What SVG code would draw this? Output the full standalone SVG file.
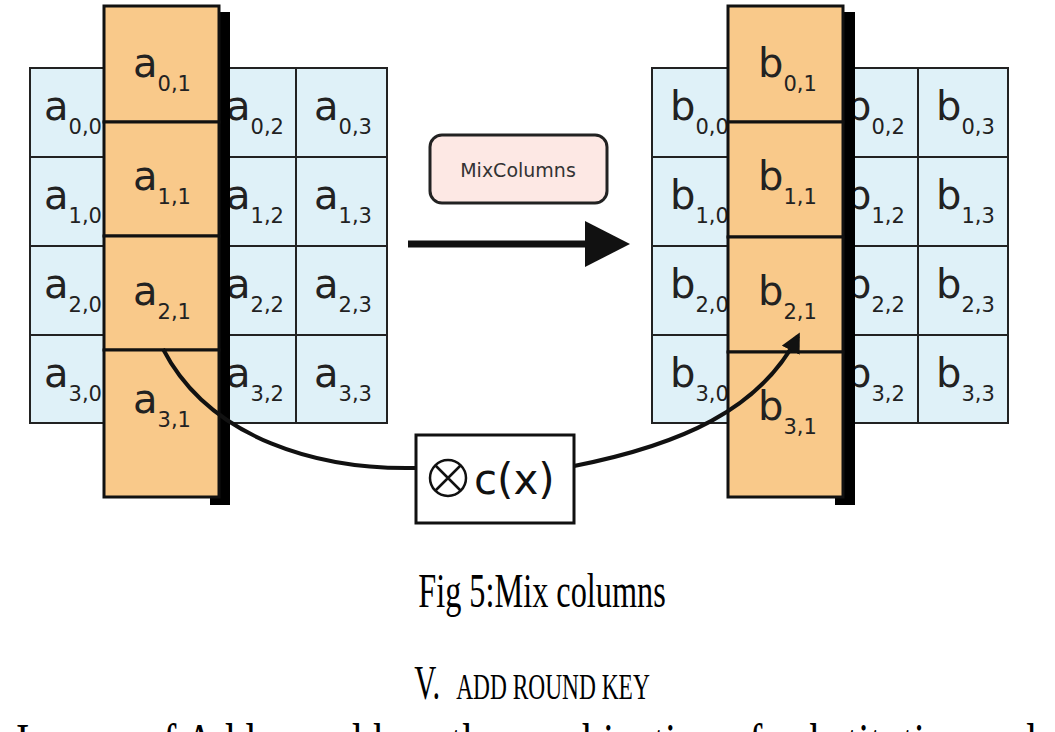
<svg xmlns="http://www.w3.org/2000/svg" width="1055" height="732" viewBox="0 0 1055 732">
<style>
.cell{fill:#dff1f8;stroke:#222;stroke-width:2}
.or{fill:#f9c98a;stroke:#111;stroke-width:3}
.sh{fill:#000}
.m{font-family:"DejaVu Sans",sans-serif;font-size:40px;fill:#222}
.s{font-size:21px}
.cap{font-family:"Liberation Serif",serif;fill:#000;text-anchor:middle}
</style>
<defs>
<marker id="ah" viewBox="0 0 10 10" refX="8" refY="5" markerWidth="5" markerHeight="5" orient="auto"><path d="M0,0 L10,5 L0,10 z" fill="#111"/></marker>
</defs>
<rect width="1055" height="732" fill="#fff"/>
<g id="gridA">
<rect class="cell" x="30" y="68" width="357" height="355"/>
<path d="M30 157H387M30 246H387M30 335H387M296 68V423" stroke="#222" stroke-width="2"/>
<g class="m">
<text x="44" y="120">a<tspan class="s" dy="14">0,0</tspan></text>
<text x="44" y="209">a<tspan class="s" dy="14">1,0</tspan></text>
<text x="44" y="298">a<tspan class="s" dy="14">2,0</tspan></text>
<text x="44" y="387">a<tspan class="s" dy="14">3,0</tspan></text>
<text x="226" y="120">a<tspan class="s" dy="14">0,2</tspan></text>
<text x="226" y="209">a<tspan class="s" dy="14">1,2</tspan></text>
<text x="226" y="298">a<tspan class="s" dy="14">2,2</tspan></text>
<text x="226" y="387">a<tspan class="s" dy="14">3,2</tspan></text>
<text x="314" y="120">a<tspan class="s" dy="14">0,3</tspan></text>
<text x="314" y="209">a<tspan class="s" dy="14">1,3</tspan></text>
<text x="314" y="298">a<tspan class="s" dy="14">2,3</tspan></text>
<text x="314" y="387">a<tspan class="s" dy="14">3,3</tspan></text>
</g>
</g>
<g id="colA">
<rect class="sh" x="210" y="12" width="20" height="493"/>
<rect class="or" x="104" y="6" width="115" height="116"/>
<rect class="or" x="104" y="122" width="115" height="114"/>
<rect class="or" x="104" y="236" width="115" height="114"/>
<rect class="or" x="104" y="350" width="115" height="147"/>
<g class="m">
<text x="133" y="77">a<tspan class="s" dy="14">0,1</tspan></text>
<text x="133" y="190">a<tspan class="s" dy="14">1,1</tspan></text>
<text x="133" y="305">a<tspan class="s" dy="14">2,1</tspan></text>
<text x="133" y="413">a<tspan class="s" dy="14">3,1</tspan></text>
</g>
</g>
<g id="gridB">
<rect class="cell" x="652" y="68" width="356" height="355"/>
<path d="M652 157H1008M652 246H1008M652 335H1008M918 68V423" stroke="#222" stroke-width="2"/>
<g class="m">
<text x="670" y="120">b<tspan class="s" dy="14">0,0</tspan></text>
<text x="670" y="209">b<tspan class="s" dy="14">1,0</tspan></text>
<text x="670" y="298">b<tspan class="s" dy="14">2,0</tspan></text>
<text x="670" y="387">b<tspan class="s" dy="14">3,0</tspan></text>
<text x="846" y="120">b<tspan class="s" dy="14">0,2</tspan></text>
<text x="846" y="209">b<tspan class="s" dy="14">1,2</tspan></text>
<text x="846" y="298">b<tspan class="s" dy="14">2,2</tspan></text>
<text x="846" y="387">b<tspan class="s" dy="14">3,2</tspan></text>
<text x="936" y="120">b<tspan class="s" dy="14">0,3</tspan></text>
<text x="936" y="209">b<tspan class="s" dy="14">1,3</tspan></text>
<text x="936" y="298">b<tspan class="s" dy="14">2,3</tspan></text>
<text x="936" y="387">b<tspan class="s" dy="14">3,3</tspan></text>
</g>
</g>
<g id="colB">
<rect class="sh" x="835" y="12" width="20" height="493"/>
<rect class="or" x="728" y="6" width="115" height="116"/>
<rect class="or" x="728" y="122" width="115" height="115"/>
<rect class="or" x="728" y="237" width="115" height="115"/>
<rect class="or" x="728" y="352" width="115" height="145"/>
<g class="m">
<text x="758" y="77">b<tspan class="s" dy="14">0,1</tspan></text>
<text x="758" y="190">b<tspan class="s" dy="14">1,1</tspan></text>
<text x="758" y="305">b<tspan class="s" dy="14">2,1</tspan></text>
<text x="758" y="420">b<tspan class="s" dy="14">3,1</tspan></text>
</g>
</g>
<g id="mix">
<rect x="430" y="135" width="177" height="68" rx="12" fill="#fde8e4" stroke="#222" stroke-width="3"/>
<text x="518" y="177" font-family="DejaVu Sans,sans-serif" font-size="19" fill="#333" text-anchor="middle">MixColumns</text>
</g>
<g id="cx">
<rect x="416" y="435" width="158" height="88" fill="#fff" stroke="#111" stroke-width="3"/>
<circle cx="448" cy="478" r="18" fill="none" stroke="#111" stroke-width="2.5"/>
<path d="M435 465L461 491M461 465L435 491" stroke="#111" stroke-width="2.5"/>
<text x="474" y="494" font-family="DejaVu Sans,sans-serif" font-size="42" fill="#111">c(x)</text>
</g>
<g id="connectors" fill="none" stroke="#111">
<path d="M408 244H590" stroke-width="7"/>
<path d="M585 221L630 244L585 267Z" fill="#111" stroke="none"/>
<path d="M163 349C210 440 320 470 416 468" stroke-width="4"/>
<path d="M574 466C680 445 760 410 798 336" stroke-width="4" marker-end="url(#ah)"/>
</g>
<text class="cap" transform="translate(542 607) scale(0.95 1.4)" font-size="34">Fig 5:Mix columns</text>
<text class="cap" transform="translate(532 699) scale(0.9 1.4)"><tspan font-size="34">V.</tspan><tspan font-size="26" dx="18">ADD ROUND KEY</tspan></text>
<text transform="translate(16 760) scale(1 1.3)" font-family="Liberation Serif,serif" font-size="40" fill="#000" textLength="1020">In case of Add round key, the combination of substitution and</text>
</svg>
